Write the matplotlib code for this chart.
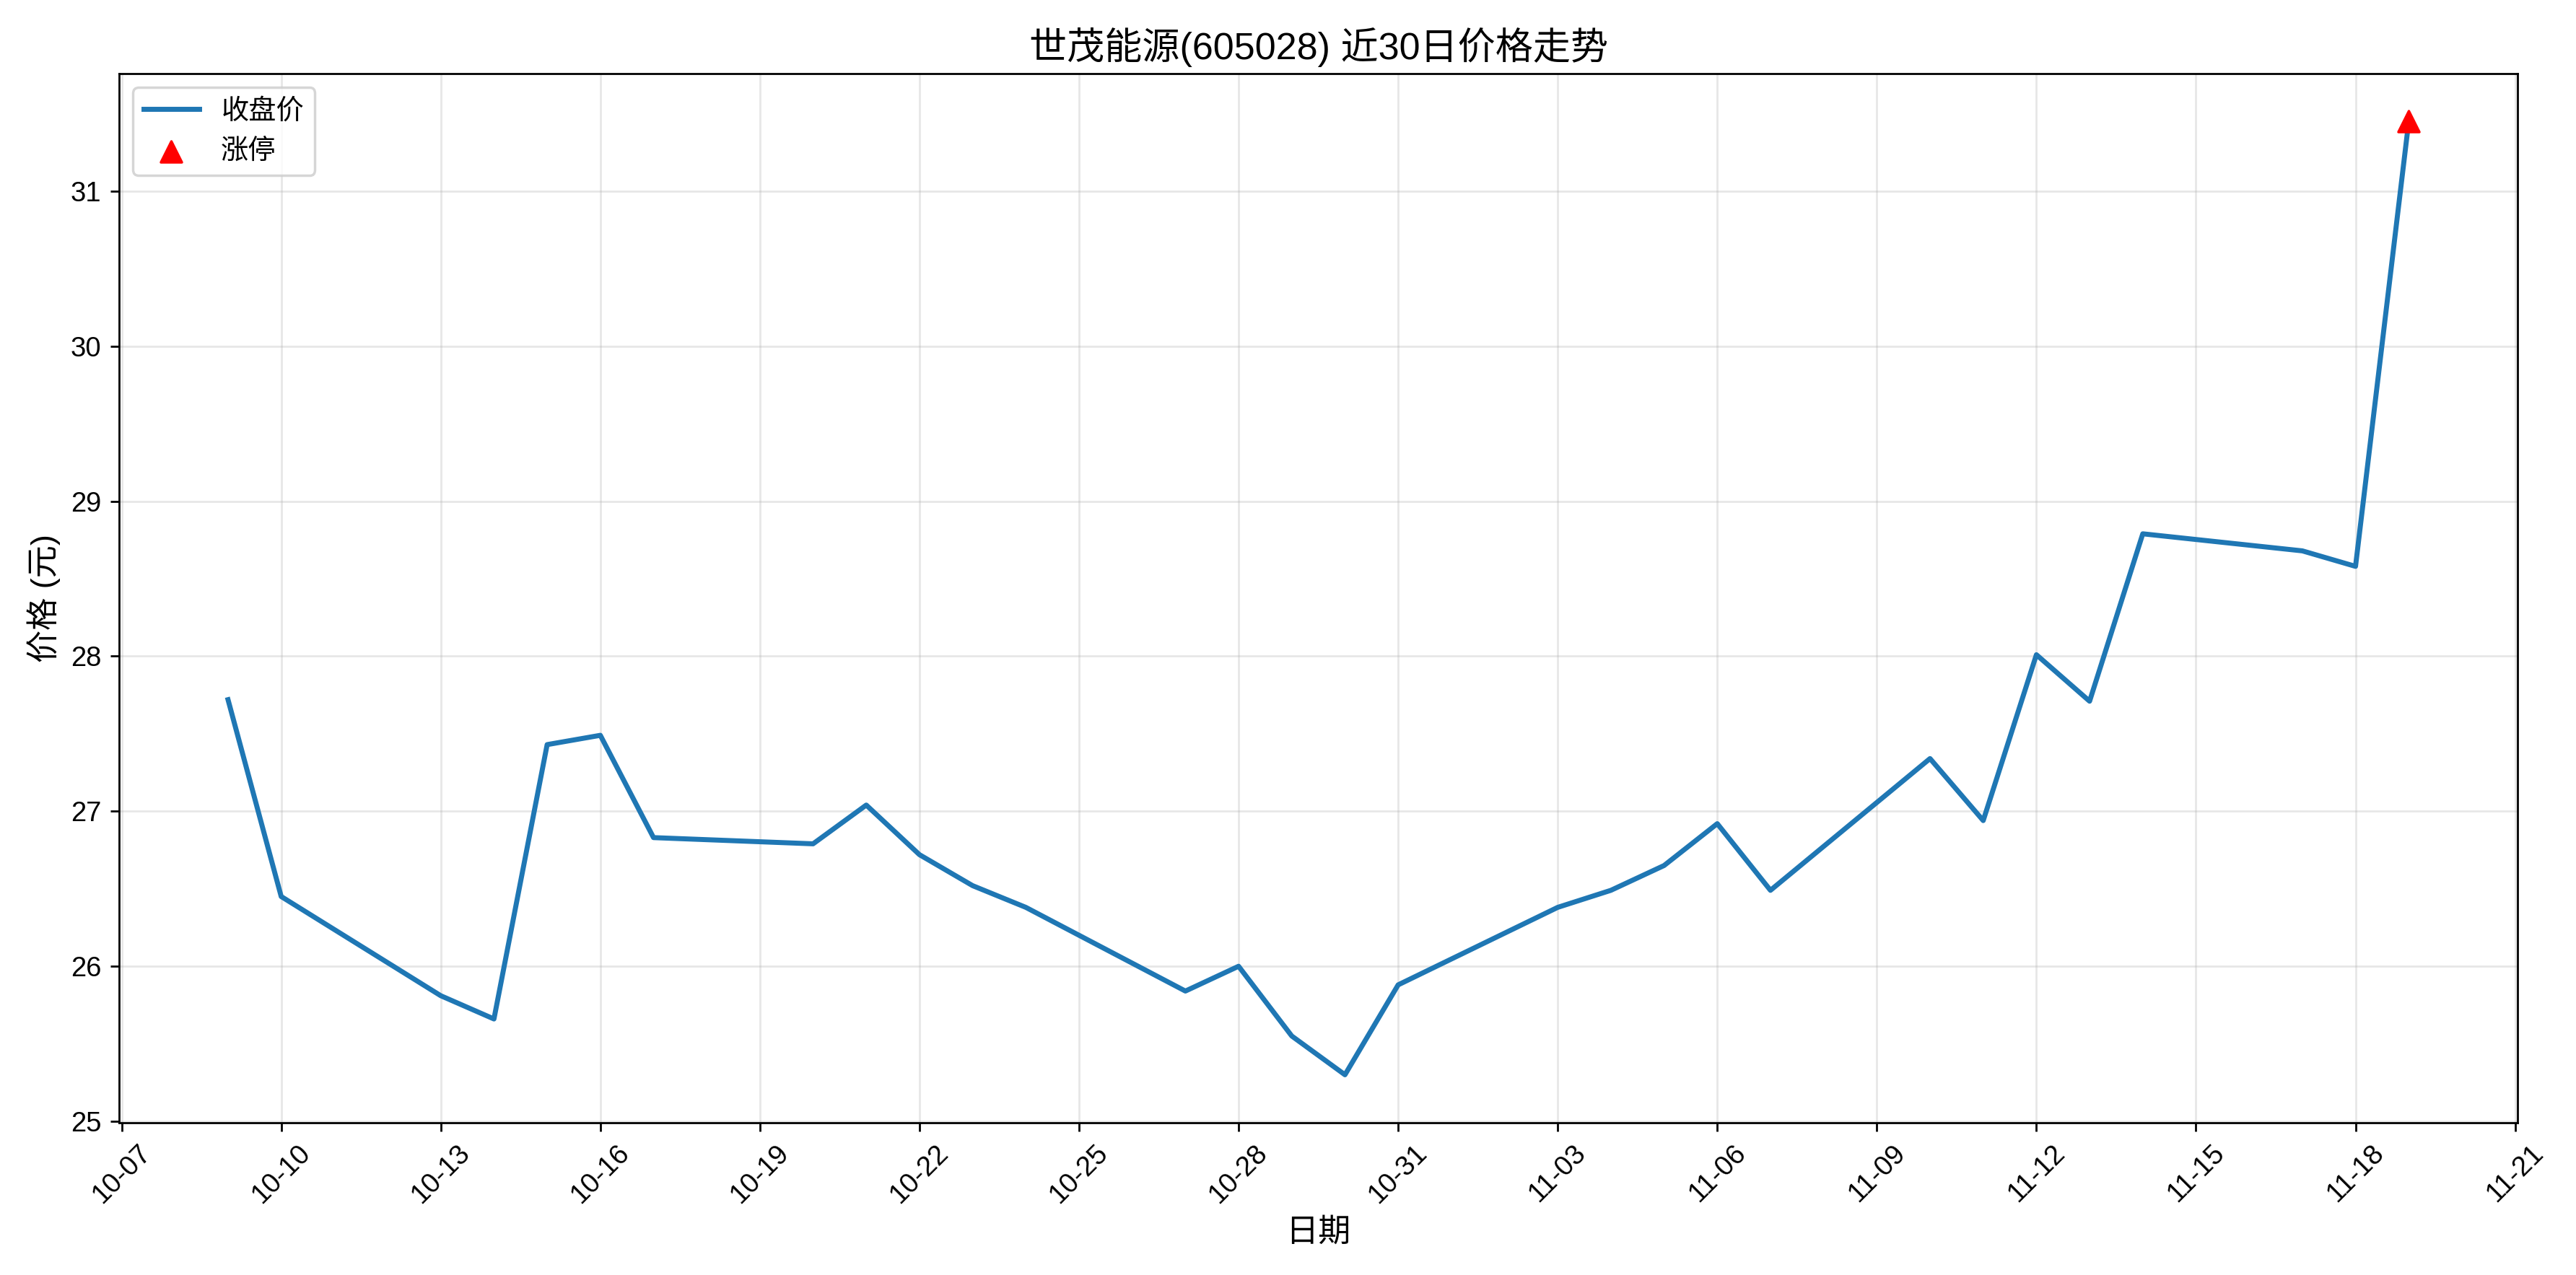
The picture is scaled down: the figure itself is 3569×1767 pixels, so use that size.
import matplotlib
matplotlib.use("Agg")
import matplotlib.pyplot as plt
import matplotlib.dates as mdates
import pandas as pd

plt.rcParams['font.family'] = ['Liberation Sans', 'Noto Sans CJK SC', 'DejaVu Sans']
plt.rcParams['axes.unicode_minus'] = False

dates = ["10-09", "10-10", "10-13", "10-14", "10-15", "10-16", "10-17", "10-20",
         "10-21", "10-22", "10-23", "10-24", "10-27", "10-28", "10-29", "10-30",
         "10-31", "11-03", "11-04", "11-05", "11-06", "11-07", "11-10", "11-11",
         "11-12", "11-13", "11-14", "11-17", "11-18", "11-19"]
close = [27.72, 26.45, 25.81, 25.66, 27.43, 27.49, 26.83, 26.79,
         27.04, 26.72, 26.52, 26.38, 25.84, 26.00, 25.55, 25.30,
         25.88, 26.38, 26.49, 26.65, 26.92, 26.49, 27.34, 26.94,
         28.01, 27.71, 28.79, 28.68, 28.58, 31.45]
limit_up_dates = ["11-19"]
limit_up_prices = [31.45]

x = pd.to_datetime(["2025-" + d for d in dates])
xl = pd.to_datetime(["2025-" + d for d in limit_up_dates])

fig, ax = plt.subplots(figsize=(14.276, 7.068), dpi=250)
ax.plot(x, close, color="#1f77b4", linewidth=2, label="收盘价")
ax.scatter(xl, limit_up_prices, marker="^", color="red", s=70, zorder=5, label="涨停")

ticks = pd.date_range("2025-10-07", "2025-11-21", freq="3D")
ax.set_xticks(ticks)
ax.xaxis.set_major_formatter(mdates.DateFormatter("%m-%d"))
ax.tick_params(labelsize=11)
plt.setp(ax.get_xticklabels(), rotation=45)

ax.set_title("世茂能源(605028) 近30日价格走势", fontsize=15)
ax.set_xlabel("日期", fontsize=13)
ax.set_ylabel("价格 (元)", fontsize=13)
ax.grid(True, alpha=0.3)
ax.legend(loc="upper left", fontsize=11)

fig.tight_layout()
fig.savefig("out.png")
